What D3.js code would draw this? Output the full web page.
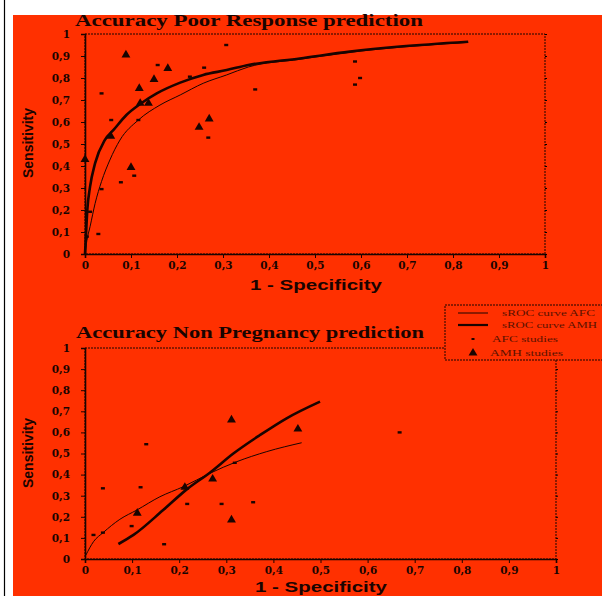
<!DOCTYPE html>
<html><head><meta charset="utf-8">
<script src="https://cdn.jsdelivr.net/npm/d3@7"></script>
<style>html,body{margin:0;padding:0;background:#fff;}svg{display:block;}</style>
</head><body>
<script>
// ---- data ----
const xTicks = [0,0.1,0.2,0.3,0.4,0.5,0.6,0.7,0.8,0.9,1];
const yTicks = [0,0.1,0.2,0.3,0.4,0.5,0.6,0.7,0.8,0.9,1];
const tickLabel = v => v === 0 ? "0" : v === 1 ? "1" : String(v).replace(".", ",");

const titleTop = "Accuracy Poor Response prediction";
const titleBottom = "Accuracy Non Pregnancy prediction";
const xTitle = "1 - Specificity";
const yTitle = "Sensitivity";
const legendLabels = ["sROC curve AFC","sROC curve AMH","AFC studies","AMH studies"];

// Poor response panel
const poorAmhCurve = [[0,0],[0.002,0.08],[0.005,0.2],[0.011,0.306],[0.022,0.413],[0.043,0.518],[0.062,0.564],[0.09,0.632],[0.12,0.682],[0.156,0.73],[0.207,0.779],[0.257,0.814],[0.308,0.836],[0.355,0.859],[0.467,0.889],[0.576,0.92],[0.685,0.943],[0.833,0.965]];
const poorAfcCurve = [[0,0],[0.004,0.06],[0.011,0.124],[0.022,0.23],[0.036,0.33],[0.054,0.427],[0.076,0.518],[0.116,0.609],[0.163,0.677],[0.207,0.723],[0.257,0.776],[0.308,0.814],[0.355,0.85],[0.467,0.885],[0.576,0.917],[0.685,0.94],[0.833,0.962]];
const poorAfcStudies = [[0.307,0.95],[0.158,0.859],[0.259,0.847],[0.228,0.806],[0.036,0.73],[0.057,0.609],[0.116,0.609],[0.37,0.748],[0.268,0.529],[0.107,0.356],[0.078,0.326],[0.036,0.295],[0.029,0.091],[0.011,0.192],[0.004,0.079],[0.587,0.875],[0.598,0.80],[0.587,0.77]];
const poorAmhStudies = [[0.089,0.905],[0.18,0.844],[0.15,0.794],[0.118,0.753],[0.12,0.685],[0.138,0.685],[0.056,0.536],[0,0.43],[0.1,0.394],[0.248,0.576],[0.27,0.614]];

// Non pregnancy panel
const nonAmhCurve = [[0.071,0.071],[0.103,0.114],[0.166,0.232],[0.216,0.33],[0.265,0.409],[0.315,0.5],[0.372,0.588],[0.428,0.667],[0.499,0.746]];
const nonAfcCurve = [[0.002,0.019],[0.018,0.082],[0.039,0.126],[0.074,0.188],[0.11,0.232],[0.159,0.295],[0.209,0.343],[0.265,0.406],[0.322,0.461],[0.386,0.509],[0.46,0.551]];
const nonAfcStudies = [[0.018,0.114],[0.038,0.125],[0.038,0.335],[0.099,0.156],[0.118,0.34],[0.13,0.544],[0.168,0.07],[0.217,0.261],[0.29,0.261],[0.357,0.269],[0.318,0.456],[0.668,0.60]];
const nonAmhStudies = [[0.311,0.659],[0.452,0.616],[0.111,0.217],[0.212,0.34],[0.271,0.379],[0.311,0.185]];

// ---- drawing ----
const W = 602, H = 596;
const RED = "#ff3000", INK = "#1a0400";
const svg = d3.select("body").append("svg").attr("width", W).attr("height", H);
svg.append("rect").attr("width", W).attr("height", H).attr("fill", "#fff");
svg.append("line").attr("x1", 4.5).attr("x2", 4.5).attr("y1", 0).attr("y2", H).attr("stroke", "#000").attr("stroke-width", 1.2);
svg.append("rect").attr("x", 13).attr("y", 15).attr("width", W - 13).attr("height", H - 15).attr("fill", RED);

const tri = d3.symbol().type(d3.symbolTriangle).size(34);

function panel(cfg) {
  const x = d3.scaleLinear().domain([0, 1]).range([cfg.x0, cfg.x1]);
  const y = d3.scaleLinear().domain([0, 1]).range([cfg.y1, cfg.y0]);
  const g = svg.append("g");

  // frame
  g.append("rect").attr("x", cfg.x0).attr("y", cfg.y0).attr("width", cfg.x1 - cfg.x0).attr("height", cfg.y1 - cfg.y0)
    .attr("fill", "none").attr("stroke", INK).attr("stroke-width", 1).attr("stroke-dasharray", "2,1");

  // axes
  const xa = g.append("g").attr("transform", `translate(0,${cfg.y1})`)
    .call(d3.axisBottom(x).tickValues(xTicks).tickFormat(tickLabel).tickSize(4).tickPadding(4));
  const ya = g.append("g").attr("transform", `translate(${cfg.x0},0)`)
    .call(d3.axisLeft(y).tickValues(yTicks).tickFormat(tickLabel).tickSize(4).tickPadding(11));
  // right-side minor ticks
  g.append("g").attr("transform", `translate(${cfg.x1},0)`)
    .call(d3.axisRight(y).tickValues(yTicks).tickFormat("").tickSize(2))
    .select(".domain").remove();
  [xa, ya].forEach(a => {
    a.select(".domain").attr("stroke", INK).attr("stroke-width", 1.6);
    a.selectAll(".tick line").attr("stroke", INK).attr("stroke-width", 1);
    a.selectAll(".tick text").attr("fill", INK).attr("font-family", "DejaVu Serif")
      .attr("font-weight", "bold").attr("font-size", 10.5);
  });

  // titles
  g.append("text").attr("x", cfg.titleX).attr("y", cfg.titleY).attr("text-anchor", "middle")
    .attr("font-family", "Liberation Serif").attr("font-weight", "bold").attr("font-size", 16)
    .attr("textLength", 348).attr("lengthAdjust", "spacingAndGlyphs").attr("fill", INK).text(cfg.title);
  g.append("text").attr("x", cfg.xtX).attr("y", cfg.xtY).attr("text-anchor", "middle")
    .attr("font-family", "Liberation Sans").attr("font-weight", "bold").attr("font-size", 15)
    .attr("textLength", 132).attr("lengthAdjust", "spacingAndGlyphs").attr("fill", INK).text(xTitle);
  g.append("text").attr("transform", `translate(33,${cfg.ytY}) rotate(-90)`).attr("text-anchor", "middle")
    .attr("font-family", "Liberation Sans").attr("font-weight", "bold").attr("font-size", 14)
    .attr("textLength", 70).attr("lengthAdjust", "spacingAndGlyphs").attr("fill", INK).text(yTitle);

  const line = d3.line().x(d => x(d[0])).y(d => y(d[1])).curve(d3.curveMonotoneX);
  g.append("path").datum(cfg.afcCurve).attr("d", line).attr("fill", "none").attr("stroke", INK).attr("stroke-width", 1);
  g.append("path").datum(cfg.amhCurve).attr("d", line).attr("fill", "none").attr("stroke", INK).attr("stroke-width", 2.6);

  g.selectAll(".afc").data(cfg.afcStudies).join("rect").attr("class", "afc")
    .attr("x", d => x(d[0]) - 2).attr("y", d => y(d[1]) - 1.2).attr("width", 4).attr("height", 2.4).attr("fill", INK);
  g.selectAll(".amh").data(cfg.amhStudies).join("path").attr("class", "amh")
    .attr("transform", d => `translate(${x(d[0])},${y(d[1])})`).attr("d", tri).attr("fill", INK);
}

panel({x0: 85, x1: 545, y0: 34, y1: 254, title: titleTop, titleX: 249, titleY: 26,
  xtX: 316, xtY: 290, ytY: 143,
  amhCurve: poorAmhCurve, afcCurve: poorAfcCurve, afcStudies: poorAfcStudies, amhStudies: poorAmhStudies});
panel({x0: 85, x1: 556, y0: 348, y1: 559, title: titleBottom, titleX: 250, titleY: 338,
  xtX: 321, xtY: 592, ytY: 453,
  amhCurve: nonAmhCurve, afcCurve: nonAfcCurve, afcStudies: nonAfcStudies, amhStudies: nonAmhStudies});

// legend
const lg = svg.append("g");
lg.append("rect").attr("x", 445).attr("y", 305).attr("width", 170).attr("height", 55)
  .attr("fill", RED).attr("stroke", INK).attr("stroke-width", 1).attr("stroke-dasharray", "2,1");
const rowsY = [313, 325, 339, 353];
lg.append("line").attr("x1", 458).attr("x2", 488).attr("y1", rowsY[0]).attr("y2", rowsY[0]).attr("stroke", INK).attr("stroke-width", 1);
lg.append("line").attr("x1", 458).attr("x2", 488).attr("y1", rowsY[1]).attr("y2", rowsY[1]).attr("stroke", INK).attr("stroke-width", 2.2);
lg.append("rect").attr("x", 471.5).attr("y", rowsY[2] - 1).attr("width", 3).attr("height", 2).attr("fill", INK);
lg.append("path").attr("transform", `translate(473,${rowsY[3]})`).attr("d", tri).attr("fill", INK);
const lgX = [502, 502, 492, 490], lgLen = [93, 95, 66, 73];
legendLabels.forEach((t, i) => {
  lg.append("text").attr("x", lgX[i]).attr("y", rowsY[i] + 3).attr("font-family", "Liberation Serif")
    .attr("font-size", 8).attr("textLength", lgLen[i]).attr("lengthAdjust", "spacingAndGlyphs")
    .attr("fill", "#5a1200").text(t);
});
</script>
</body></html>
